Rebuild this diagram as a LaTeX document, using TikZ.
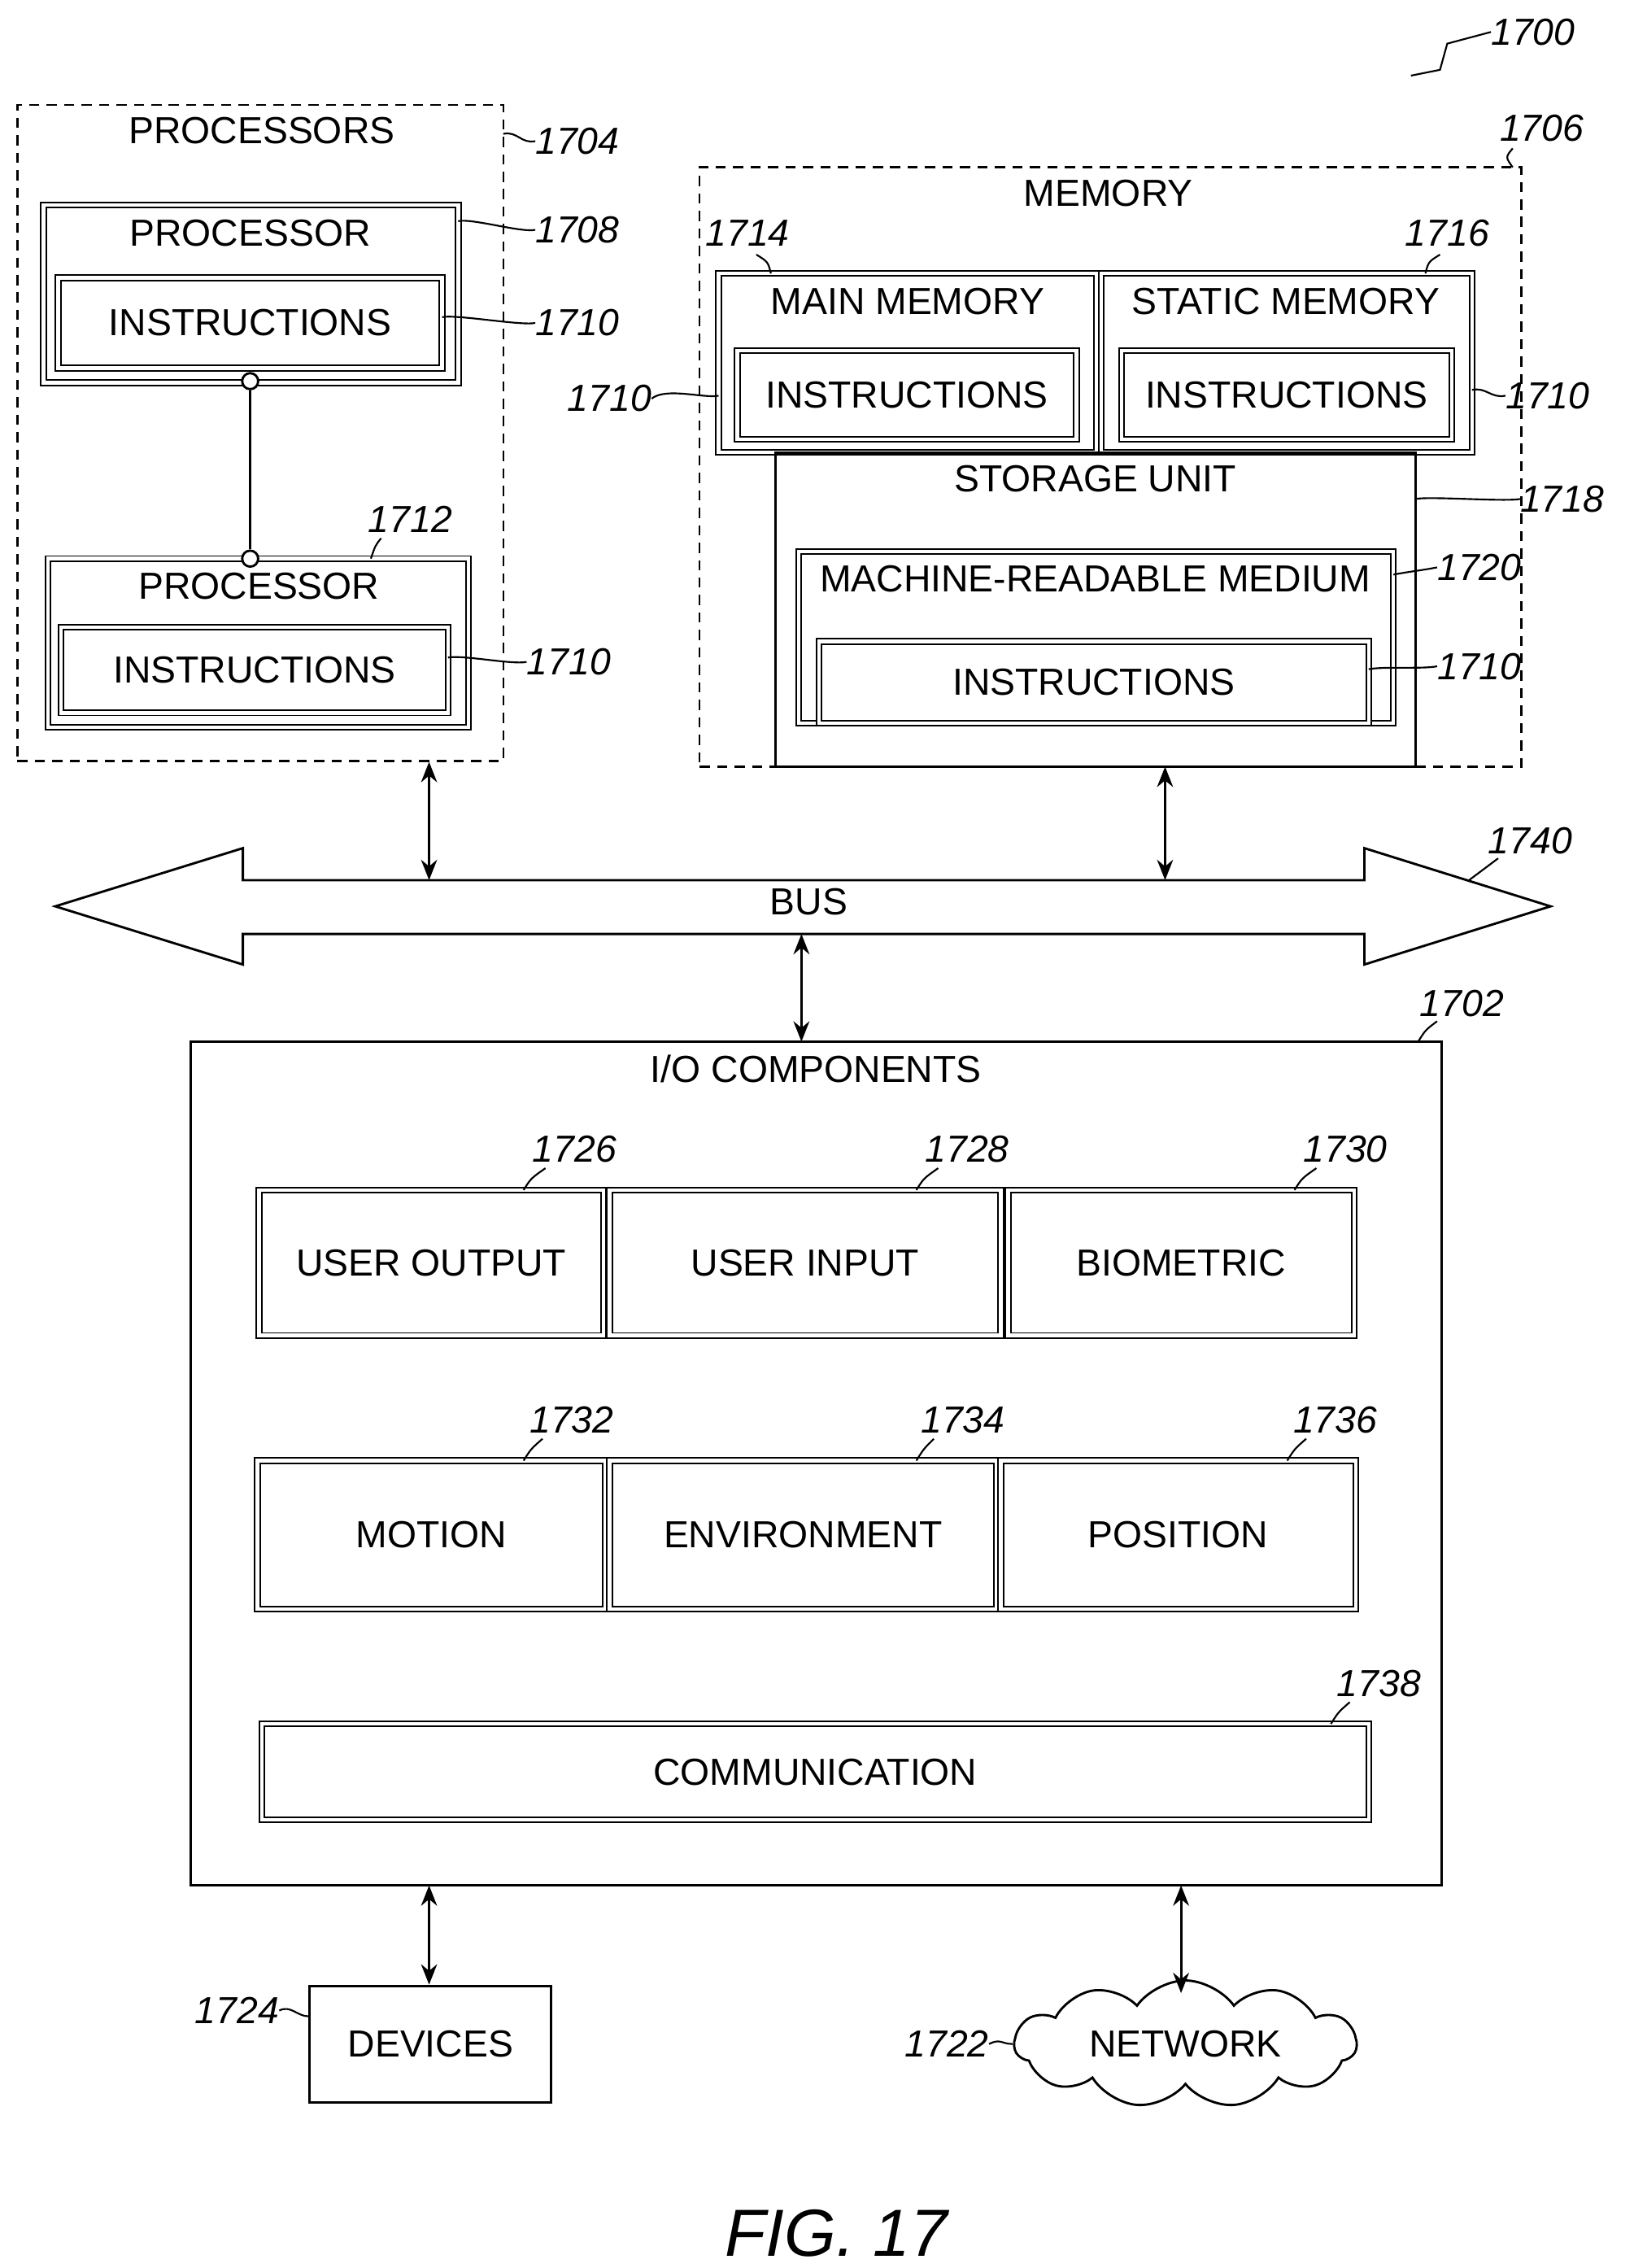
\documentclass[tikz,border=0pt]{standalone}
\usepackage{fontspec}
\setmainfont{Liberation Sans}
\usetikzlibrary{shapes.symbols,arrows.meta}
\begin{document}
\begin{tikzpicture}[x=1bp,y=-1bp,
  lw/.style={line width=1.6bp},
  box/.style={draw,lw,inner sep=0pt,font=\fontsize{26}{28}\selectfont},
  dbox/.style={box,double,double distance=2.5bp,line width=1.1bp},
  dshd/.style={draw,line width=1.4bp,dash pattern=on 7bp off 5bp},
  txt/.style={font=\fontsize{26}{28}\selectfont,inner sep=0pt},
  num/.style={font=\fontsize{26}{28}\selectfont\itshape,inner sep=0pt},
  lead/.style={line width=1.2bp},
  dar/.style={lw,{Stealth[length=14bp,width=11bp]}-{Stealth[length=14bp,width=11bp]}}]
\newcommand\bx[7]{\node[#6,minimum width=\dimexpr#4bp-#2bp\relax,minimum height=\dimexpr#5bp-#3bp\relax] (#1) at ({(#2+#4)/2},{(#3+#5)/2}) {#7};}
\newcommand\lead[2]{\draw[lead] #1 .. controls +(10,-2) and +(-10,2) .. #2;}
\useasboundingbox (0,0) rectangle (1123,1559);
% processors
\bx{procs}{12}{72}{346}{523}{dshd}{}
\node[txt] (procsT) at (180,90) {PROCESSORS};
\node[num,anchor=west] (n1704) at (368,97) {1704};
\lead{(346,92)}{(n1704.west)}
\bx{p1}{30}{141}{315}{263}{dbox}{}
\node[txt] (p1T) at (172,160) {PROCESSOR};
\bx{p1i}{40}{191}{304}{253}{dbox}{INSTRUCTIONS}
\node[num,anchor=west] (n1708) at (368,158) {1708};
\lead{(315,152)}{(n1708.west)}
\node[num,anchor=west] (n1710a) at (368,222) {1710};
\lead{(304,218)}{(n1710a.west)}
\bx{p2}{33}{384}{322}{500}{dbox}{}
\node[txt] (p2T) at (178,403) {PROCESSOR};
\bx{p2i}{42}{431}{308}{490}{dbox}{INSTRUCTIONS}
\node[num] (n1712) at (282,357) {1712};
\draw[lead] (255,384) .. controls (258,375) .. (262,370);
\node[num,anchor=west] (n1710b) at (362,455) {1710};
\lead{(308,452)}{(n1710b.west)}
\node[circle,draw,lw,inner sep=0pt,minimum size=11bp,fill=white] (c1) at (172,262) {};
\node[circle,draw,lw,inner sep=0pt,minimum size=11bp,fill=white] (c2) at (172,384) {};
\draw[lw] (c1) -- (c2);
% memory
\bx{mem}{481}{115}{1046}{527}{dshd}{}
\node[txt] (memT) at (762,133) {MEMORY};
\node[num] (n1706) at (1060,88) {1706};
\draw[lead] (1040,115) .. controls (1035,108) .. (1040,102);
\bx{mm}{494}{188}{754}{311}{dbox}{}
\node[txt] (mmT) at (624,207) {MAIN MEMORY};
\bx{mmi}{507}{241}{740}{302}{dbox}{INSTRUCTIONS}
\bx{sm}{757}{188}{1012}{311}{dbox}{}
\node[txt] (smT) at (884,207) {STATIC MEMORY};
\bx{smi}{771}{241}{998}{302}{dbox}{INSTRUCTIONS}
\node[num] (n1714) at (514,160) {1714};
\draw[lead] (530,188) .. controls (528,180) .. (520,175);
\node[num] (n1716) at (995,160) {1716};
\draw[lead] (980,188) .. controls (982,180) .. (990,175);
\node[num,anchor=east] (n1710c) at (448,274) {1710};
\draw[lead] (n1710c.east) .. controls +(10,-8) and +(-10,2) .. (494,272);
\node[num,anchor=west] (n1710d) at (1035,272) {1710};
\lead{(1012,268)}{(n1710d.west)}
\bx{su}{533}{311}{973}{527}{box}{}
\node[txt] (suT) at (753,329) {STORAGE UNIT};
\node[num,anchor=west] (n1718) at (1045,343) {1718};
\lead{(973,343)}{(n1718.west)}
\bx{mrm}{549}{379}{958}{497}{dbox}{}
\node[txt] (mrmT) at (753,398) {MACHINE-READABLE MEDIUM};
\bx{mrmi}{563}{441}{941}{497}{dbox}{INSTRUCTIONS}
\node[num,anchor=west] (n1720) at (988,390) {1720};
\lead{(958,395)}{(n1720.west)}
\node[num,anchor=west] (n1710e) at (988,458) {1710};
\lead{(941,460)}{(n1710e.west)}
% bus
\draw[lw] (38,623) -- (167,583) -- (167,605) -- (938,605) -- (938,583) -- (1066,623) -- (938,663) -- (938,642) -- (167,642) -- (167,663) -- cycle;
\node[txt] (bus) at (556,620) {BUS};
\node[num] (n1740) at (1052,578) {1740};
\draw[lead] (1010,605) .. controls (1020,598) .. (1030,590);
\coordinate (bt1) at (295,605); \coordinate (bt2) at (801,605); \coordinate (bb) at (551,642);
\draw[dar] (procs.south -| bt1) -- (bt1);
\draw[dar] (801,527) -- (bt2);
% IO
\bx{io}{131}{716}{991}{1296}{box}{}
\draw[dar] (bb) -- (551,716);
\node[txt] (ioT) at (561,735) {I/O COMPONENTS};
\node[num] (n1702) at (1005,690) {1702};
\draw[lead] (975,716) .. controls (980,708) .. (988,702);
\bx{uo}{178}{818}{415}{918}{dbox}{USER OUTPUT}
\bx{ui}{419}{818}{688}{918}{dbox}{USER INPUT}
\bx{bio}{693}{818}{931}{918}{dbox}{BIOMETRIC}
\bx{mot}{177}{1004}{416}{1106}{dbox}{MOTION}
\bx{env}{419}{1004}{685}{1106}{dbox}{ENVIRONMENT}
\bx{pos}{688}{1004}{932}{1106}{dbox}{POSITION}
\bx{com}{180}{1185}{941}{1251}{dbox}{COMMUNICATION}
\node[num] (n1726) at (395,790) {1726};
\draw[lead] (360,818) .. controls (365,810) .. (375,803);
\node[num] (n1728) at (665,790) {1728};
\draw[lead] (630,818) .. controls (635,810) .. (645,803);
\node[num] (n1730) at (925,790) {1730};
\draw[lead] (890,818) .. controls (895,810) .. (905,803);
\node[num] (n1732) at (393,976) {1732};
\draw[lead] (360,1004) .. controls (365,996) .. (373,989);
\node[num] (n1734) at (662,976) {1734};
\draw[lead] (630,1004) .. controls (635,996) .. (642,989);
\node[num] (n1736) at (918,976) {1736};
\draw[lead] (885,1004) .. controls (890,996) .. (898,989);
\node[num] (n1738) at (948,1157) {1738};
\draw[lead] (915,1185) .. controls (920,1177) .. (928,1170);
% devices, network
\bx{dev}{213}{1365}{379}{1445}{box}{DEVICES}
\node[cloud,draw,lw,cloud puffs=11,cloud puff arc=110,aspect=3,minimum width=235bp,minimum height=80bp,txt] (net) at (815,1405) {NETWORK};
\draw[dar] (295,1296) -- (dev.north -| 295,0);
\draw[dar] (812,1296) -- (812,1370);
\node[num,anchor=east] (n1724) at (192,1382) {1724};
\draw[lead] (n1724.east) .. controls +(8,-4) and +(-8,0) .. (dev.west |- 0,1386);
\node[num,anchor=east] (n1722) at (680,1405) {1722};
\draw[lead] (n1722.east) .. controls +(8,-4) and +(-8,0) .. (net.west);
\node[num,font=\fontsize{46}{50}\selectfont\itshape] (fig) at (575,1535) {FIG. 17};
\node[num,anchor=west] (n1700) at (1025,22) {1700};
\coordinate (a0) at (970,52);
\draw[lead] (n1700.west) -- (995,30) -- (990,48) -- (a0);
\end{tikzpicture}
\end{document}
